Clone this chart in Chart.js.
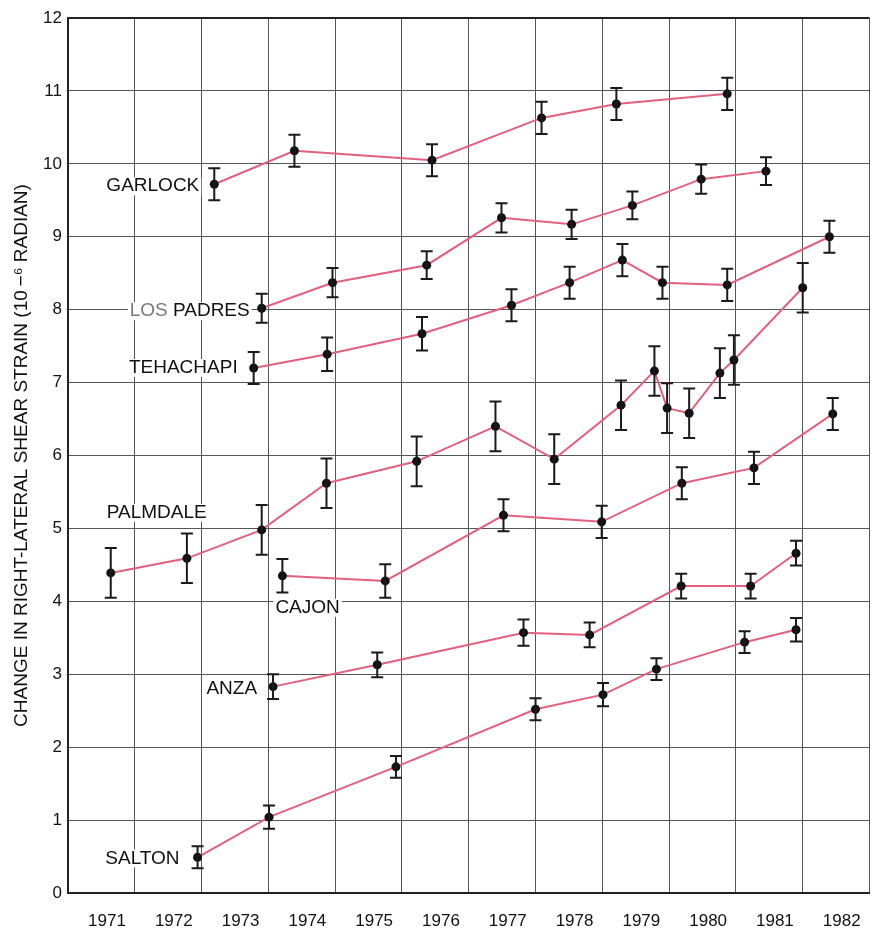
<!DOCTYPE html>
<html>
<head>
<meta charset="utf-8">
<title>Right-lateral shear strain</title>
<script src="https://cdn.jsdelivr.net/npm/chart.js@4.4.1/dist/chart.umd.min.js"></script>
<style>
  html, body { margin: 0; padding: 0; background: #fff; }
  #wrap { width: 874px; height: 932px; }
</style>
</head>
<body>
<div id="wrap"><canvas id="strain-chart" width="874" height="932"></canvas></div>
<script>
// ─── Data ────────────────────────────────────────────────────

const yearTicks = ["1971", "1972", "1973", "1974", "1975", "1976", "1977", "1978", "1979", "1980", "1981", "1982"];
const networks = ["GARLOCK", "LOS PADRES", "TEHACHAPI", "PALMDALE", "CAJON", "ANZA", "SALTON"];

const garlockYear = [1973.19, 1974.39, 1976.45, 1978.09, 1979.21, 1980.87];
const garlockStrain = [9.72, 10.18, 10.05, 10.63, 10.82, 10.96];
const garlockErr = [0.22, 0.22, 0.22, 0.22, 0.22, 0.22];

const losPadresYear = [1973.90, 1974.96, 1976.37, 1977.49, 1978.54, 1979.45, 1980.48, 1981.45];
const losPadresStrain = [8.02, 8.37, 8.61, 9.26, 9.17, 9.43, 9.79, 9.90];
const losPadresErr = [0.2, 0.2, 0.19, 0.2, 0.2, 0.19, 0.2, 0.19];

const tehachapiYear = [1973.78, 1974.88, 1976.30, 1977.64, 1978.51, 1979.30, 1979.90, 1980.87, 1982.40];
const tehachapiStrain = [7.20, 7.39, 7.67, 8.06, 8.37, 8.68, 8.37, 8.34, 9.00];
const tehachapiErr = [0.22, 0.23, 0.23, 0.22, 0.22, 0.22, 0.22, 0.22, 0.22];

const palmdaleYear = [1971.64, 1972.78, 1973.90, 1974.87, 1976.22, 1977.40, 1978.28, 1979.28, 1979.78, 1979.97, 1980.30, 1980.76, 1980.97, 1982.00];
const palmdaleStrain = [4.39, 4.59, 4.98, 5.62, 5.92, 6.40, 5.95, 6.69, 7.16, 6.65, 6.58, 7.13, 7.31, 8.30];
const palmdaleErr = [0.34, 0.34, 0.34, 0.34, 0.34, 0.34, 0.34, 0.34, 0.34, 0.34, 0.34, 0.34, 0.34, 0.34];

const cajonYear = [1974.21, 1975.75, 1977.52, 1978.99, 1980.19, 1981.27, 1982.45];
const cajonStrain = [4.35, 4.28, 5.18, 5.09, 5.62, 5.83, 6.57];
const cajonErr = [0.23, 0.23, 0.22, 0.22, 0.22, 0.22, 0.22];

const anzaYear = [1974.07, 1975.63, 1977.82, 1978.81, 1980.18, 1981.22, 1981.90];
const anzaStrain = [2.83, 3.13, 3.57, 3.54, 4.21, 4.21, 4.66];
const anzaErr = [0.17, 0.17, 0.18, 0.17, 0.17, 0.17, 0.17];

const saltonYear = [1972.94, 1974.01, 1975.91, 1978.00, 1979.01, 1979.81, 1981.13, 1981.90];
const saltonStrain = [0.49, 1.04, 1.73, 2.52, 2.72, 3.07, 3.44, 3.61];
const saltonErr = [0.15, 0.16, 0.15, 0.15, 0.16, 0.15, 0.15, 0.16];

// ─── Styling ─────────────────────────────────────────────────

const FONT = "'Liberation Sans', Arial, Helvetica, sans-serif";
const INK = "#111111";
const LINE_PINK = "#e2607e";
const GRID = "#555555";

Chart.defaults.font.family = FONT;
Chart.defaults.color = INK;

// where each network name sits relative to its first point
const labelPlacement = {
  "GARLOCK":    { dx: -15, dy: 2,   align: "right" },
  "LOS PADRES": { dx: -12, dy: 3,   align: "right", dim: "LOS" },
  "TEHACHAPI":  { dx: -16, dy: 0,   align: "right" },
  "PALMDALE":   { dx: -4,  dy: -60, align: "left" },
  "CAJON":      { dx: -7,  dy: 32,  align: "left" },
  "ANZA":       { dx: -16, dy: 2,   align: "right" },
  "SALTON":     { dx: -18, dy: 1,   align: "right" },
};

function zip(years, values, errs) {
  return years.map((x, i) => ({ x, y: values[i], err: errs[i] }));
}

const series = [
  zip(garlockYear, garlockStrain, garlockErr),
  zip(losPadresYear, losPadresStrain, losPadresErr),
  zip(tehachapiYear, tehachapiStrain, tehachapiErr),
  zip(palmdaleYear, palmdaleStrain, palmdaleErr),
  zip(cajonYear, cajonStrain, cajonErr),
  zip(anzaYear, anzaStrain, anzaErr),
  zip(saltonYear, saltonStrain, saltonErr),
];

// ─── Plugins ─────────────────────────────────────────────────

// vertical error bars with caps, drawn over the lines
const errorBars = {
  id: "errorBars",
  afterDatasetsDraw(chart) {
    const { ctx, scales: { x, y } } = chart;
    ctx.save();
    ctx.strokeStyle = "#1a1a1a";
    ctx.lineWidth = 2;
    chart.data.datasets.forEach((ds) => {
      ds.data.forEach((p) => {
        const px = x.getPixelForValue(p.x);
        const top = y.getPixelForValue(p.y + p.err);
        const bot = y.getPixelForValue(p.y - p.err);
        ctx.beginPath();
        ctx.moveTo(px, top); ctx.lineTo(px, bot);
        ctx.moveTo(px - 6, top); ctx.lineTo(px + 6, top);
        ctx.moveTo(px - 6, bot); ctx.lineTo(px + 6, bot);
        ctx.stroke();
      });
    });
    ctx.restore();
  },
};

// network names on a white patch that hides the grid behind them
const networkLabels = {
  id: "networkLabels",
  beforeDatasetsDraw(chart) {
    const { ctx, scales: { x, y } } = chart;
    ctx.save();
    ctx.font = `19px ${FONT}`;
    ctx.textBaseline = "middle";
    chart.data.datasets.forEach((ds) => {
      const place = labelPlacement[ds.label];
      const first = ds.data[0];
      const text = ds.label;
      const w = ctx.measureText(text).width;
      const ax = x.getPixelForValue(first.x) + place.dx;
      const ay = y.getPixelForValue(first.y) + place.dy;
      const left = place.align === "right" ? ax - w : ax;

      ctx.fillStyle = "#ffffff";
      ctx.fillRect(left - 2, ay - 9, w + 4, 18);

      ctx.textAlign = "left";
      if (place.dim) {
        const dimW = ctx.measureText(place.dim).width;
        ctx.fillStyle = "#7a7a7a";
        ctx.fillText(place.dim, left, ay);
        ctx.fillStyle = INK;
        ctx.fillText(text.slice(place.dim.length), left + dimW, ay);
      } else {
        ctx.fillStyle = INK;
        ctx.fillText(text, left, ay);
      }
    });
    ctx.restore();
  },
};

// ─── Chart ───────────────────────────────────────────────────

const ctx = document.getElementById("strain-chart").getContext("2d");
new Chart(ctx, {
  type: "scatter",
  data: {
    datasets: networks.map((name, i) => ({
      label: name,
      data: series[i],
      showLine: true,
      borderColor: LINE_PINK,
      borderWidth: 2,
      pointRadius: 4.5,
      pointHoverRadius: 4.5,
      pointBackgroundColor: INK,
      pointBorderWidth: 0,
    })),
  },
  options: {
    responsive: false,
    animation: false,
    devicePixelRatio: 1,
    events: [],
    layout: { padding: { top: 18, right: 2, left: 0, bottom: 0 } },
    plugins: {
      legend: { display: false },
      tooltip: { enabled: false },
    },
    scales: {
      x: {
        type: "linear",
        min: 1971,
        max: 1983,
        afterFit: (scale) => {
          scale.height = 39;
          scale.paddingLeft = 0;
          scale.paddingRight = 0;
        },
        border: { color: "#222", width: 2 },
        grid: { color: GRID, lineWidth: 1, drawTicks: false },
        ticks: {
          stepSize: 1,
          autoSkip: false,
          maxRotation: 0,
          labelOffset: 39,
          padding: 18,
          color: INK,
          font: { size: 17 },
          callback: (v) => yearTicks[v - 1971] || "",
        },
      },
      y: {
        min: 0,
        max: 12,
        afterFit: (scale) => { scale.width = 68; },
        border: { color: "#222", width: 2 },
        grid: {
          color: (c) => (c.tick && c.tick.value === 12 ? "#222" : GRID),
          lineWidth: (c) => (c.tick && c.tick.value === 12 ? 2 : 1),
          drawTicks: false,
        },
        ticks: {
          stepSize: 1,
          padding: 6,
          color: INK,
          font: { size: 17 },
        },
        title: {
          display: true,
          text: "CHANGE IN RIGHT-LATERAL SHEAR STRAIN (10\u2009\u2212\u2076 RADIAN)",
          color: INK,
          font: { size: 19 },
          padding: { top: 10, bottom: 0 },
        },
      },
    },
  },
  plugins: [networkLabels, errorBars],
});
</script>
</body>
</html>
